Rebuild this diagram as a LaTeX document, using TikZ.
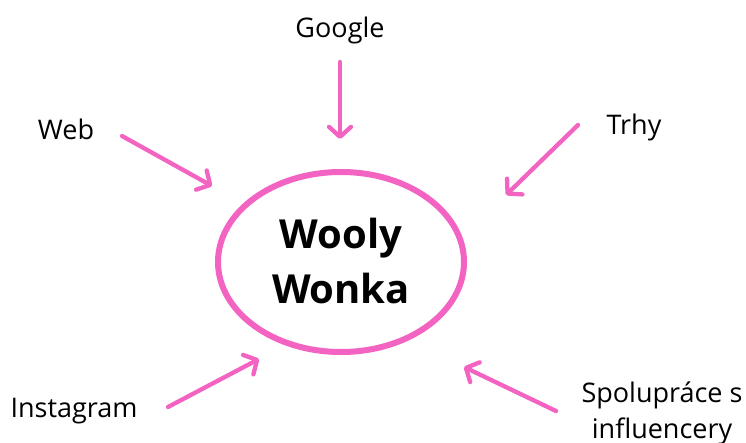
\documentclass[tikz,border=0pt]{standalone}
\usepackage{fontspec}
\setmainfont{Open Sans}
\usetikzlibrary{arrows.meta,shapes.geometric}
\definecolor{pinkline}{HTML}{F263C2}
\tikzset{
  lbl/.style={font=\fontsize{27}{33}\selectfont, align=center, inner sep=0pt},
  arr/.style={draw=pinkline, line width=4.3pt, line cap=round,
    -{Straight Barb[length=10pt, width=22pt, line width=4.3pt, round]}},
}
\begin{document}
\begin{tikzpicture}[x=1pt, y=-1pt]
\useasboundingbox (0,0) rectangle (746,443);
\node[draw=pinkline, line width=6pt, ellipse, minimum width=246pt, minimum height=180pt, inner sep=0pt] (c) at (341,262) {};
\node[font=\bfseries\fontsize{40}{55}\selectfont, align=center] (t) at (341,261) {Wooly\\Wonka};
\node[lbl] (g) at (340,30) {Google};
\node[lbl] (w) at (66,129) {Web};
\node[lbl] (tr) at (634,127) {Trhy};
\node[lbl] (i) at (74,411) {Instagram};
\node[lbl, font=\fontsize{27}{36}\selectfont] (s) at (662,413) {Spolupráce s\\influencery};
\coordinate (gs) at (340,62);  \coordinate (ge) at (340,139);
\coordinate (ws) at (122,136); \coordinate (we) at (212,186);
\coordinate (ts) at (578,125); \coordinate (te) at (506,195);
\coordinate (is) at (168,407); \coordinate (ie) at (259,359);
\coordinate (ss) at (556,411); \coordinate (se) at (464,367);
\draw[arr] (gs) -- (ge);
\draw[arr] (ws) -- (we);
\draw[arr] (ts) -- (te);
\draw[arr] (is) -- (ie);
\draw[arr] (ss) -- (se);
\end{tikzpicture}
\end{document}
